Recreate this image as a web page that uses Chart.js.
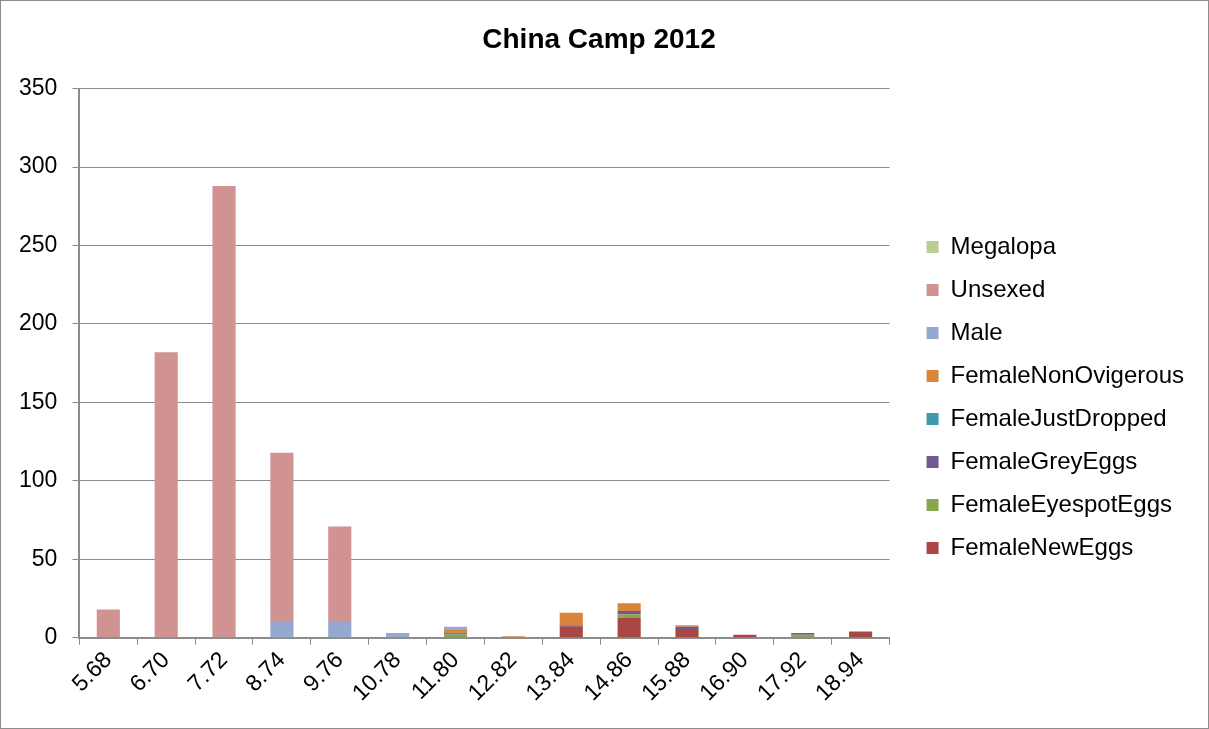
<!DOCTYPE html>
<html>
<head>
<meta charset="utf-8">
<script src="https://cdn.jsdelivr.net/npm/chart.js@4.4.0/dist/chart.umd.min.js"></script>
<style>
  body { margin: 0; background: #fff; }
  #wrap { position: relative; width: 1209px; height: 729px; box-sizing: border-box; border: 1px solid #8c8c8c; }
  canvas { display: block; }
</style>
</head>
<body>
<div id="wrap"><canvas id="myChart" width="1207" height="727"></canvas></div>
<script>
const sizes = ["5.68", "6.70", "7.72", "8.74", "9.76", "10.78", "11.80", "12.82", "13.84", "14.86", "15.88", "16.90", "17.92", "18.94"];

// bottom of the stack first
const femaleNewEggs      = [0, 0, 0, 0, 0, 0, 0, 0, 7, 13, 5, 2, 0, 4];
const femaleEyespotEggs  = [0, 0, 0, 0, 0, 0, 2, 0, 0, 2, 0, 0, 2, 0];
const femaleGreyEggs     = [0, 0, 0, 0, 0, 0, 0, 0, 1, 2, 2, 0, 1, 0];
const femaleJustDropped  = [0, 0, 0, 0, 0, 0, 1, 0, 0, 0, 0, 0, 0, 0];
const femaleNonOvigerous = [0, 0, 0, 0, 0, 0, 2, 1, 8, 5, 1, 0, 0, 0];
const male               = [0, 0, 0, 10, 10, 3, 2, 0, 0, 0, 0, 0, 0, 0];
const unsexed            = [18, 182, 288, 108, 61, 0, 0, 0, 0, 0, 0, 0, 0, 0];
const megalopa           = [0, 0, 0, 0, 0, 0, 0, 0, 0, 0, 0, 0, 0, 0];

const yTicks = [0, 50, 100, 150, 200, 250, 300, 350];

const font = "Arial, 'Liberation Sans', sans-serif";

function ds(label, data, color) {
  return { label, data, backgroundColor: color, borderWidth: 0, barPercentage: 0.4, categoryPercentage: 1 };
}

const ctx = document.getElementById("myChart").getContext("2d");
const myChart = new Chart(ctx, {
  type: "bar",
  data: {
    labels: sizes,
    datasets: [
      ds("FemaleNewEggs", femaleNewEggs, "#AA4643"),
      ds("FemaleEyespotEggs", femaleEyespotEggs, "#89A54E"),
      ds("FemaleGreyEggs", femaleGreyEggs, "#71588F"),
      ds("FemaleJustDropped", femaleJustDropped, "#4198AF"),
      ds("FemaleNonOvigerous", femaleNonOvigerous, "#DB843D"),
      ds("Male", male, "#93A9CF"),
      ds("Unsexed", unsexed, "#D19392"),
      ds("Megalopa", megalopa, "#B9CD96"),
    ],
  },
  options: {
    responsive: false,
    animation: false,
    layout: { padding: { left: 3, right: 14, top: 0, bottom: 19 } },
    plugins: {
      title: {
        display: true,
        text: "China Camp 2012",
        color: "#000",
        font: { family: font, size: 28, weight: "bold" },
        padding: { top: 22, bottom: 32 },
      },
      legend: {
        position: "right",
        reverse: true,
        maxWidth: 320,
        title: { display: true, text: "", font: { size: 1 }, padding: { top: 84, bottom: 0 } },
        labels: {
          color: "#000",
          font: { family: font, size: 24 },
          boxWidth: 12,
          boxHeight: 12,
          padding: 19,
        },
      },
      tooltip: { enabled: false },
    },
    scales: {
      x: {
        stacked: true,
        grid: { drawOnChartArea: false, color: "#8c8c8c", tickLength: 7, tickColor: "#8c8c8c" },
        border: { color: "#8c8c8c", width: 2 },
        ticks: { color: "#000", font: { family: font, size: 23 }, minRotation: 45, maxRotation: 45, padding: 2 },
      },
      y: {
        stacked: true,
        min: 0,
        max: 350,
        afterBuildTicks: (axis) => { axis.ticks = yTicks.map((v) => ({ value: v })); },
        grid: { color: "#8c8c8c", tickLength: 7, tickColor: "#8c8c8c" },
        border: { color: "#8c8c8c", width: 2 },
        ticks: { color: "#000", font: { family: font, size: 23 }, padding: 15 },
      },
      // empty strip between plot and legend
      gap: {
        position: "right",
        grid: { display: false },
        border: { display: false },
        ticks: { display: false },
        afterFit: (axis) => { axis.width = 18; },
      },
    },
  },
});
</script>
</body>
</html>
